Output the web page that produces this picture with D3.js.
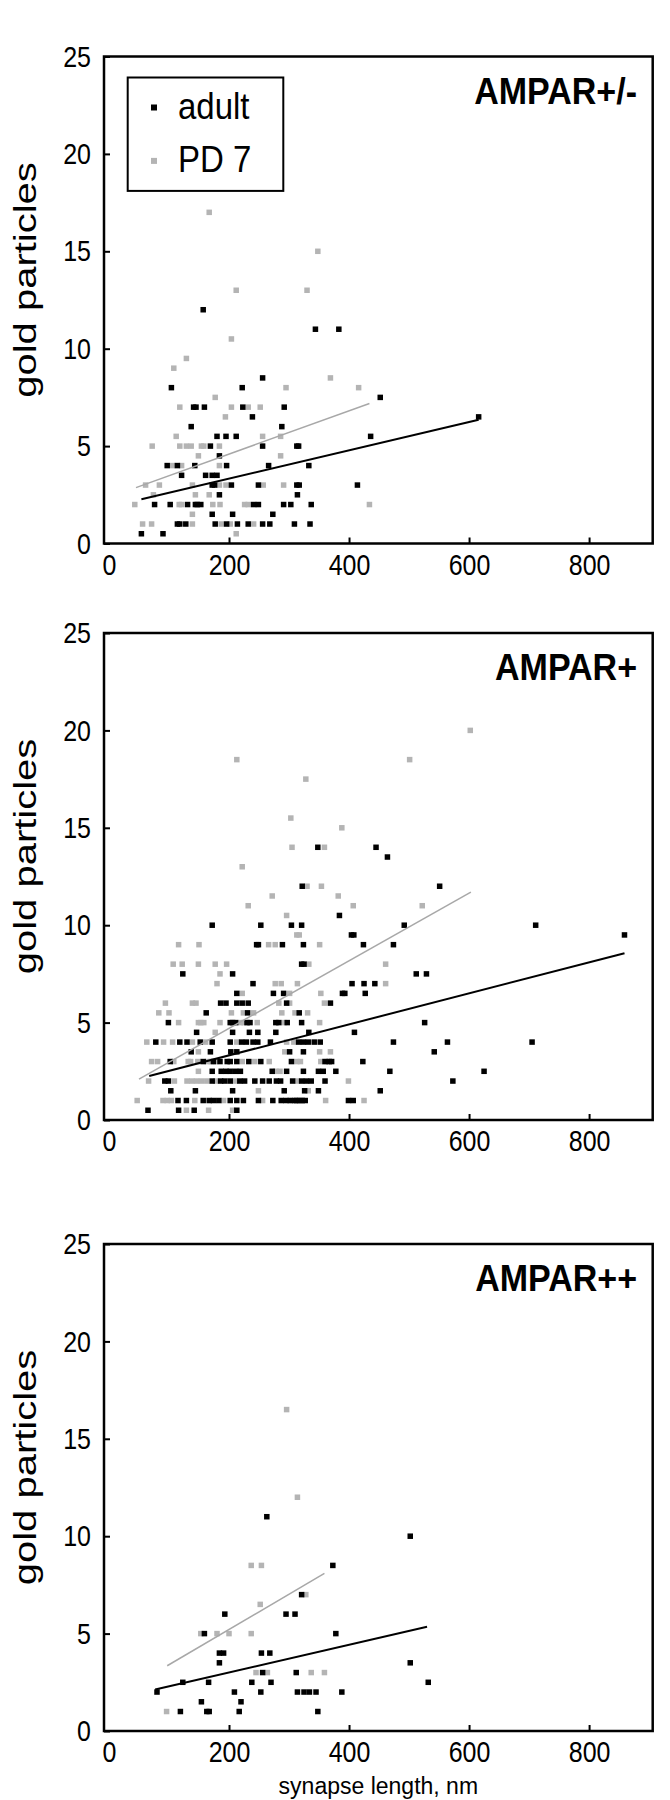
<!DOCTYPE html>
<html>
<head>
<meta charset="utf-8">
<script src="https://cdn.jsdelivr.net/npm/d3@7"></script>
<style>
  body { margin: 0; background: #fff; }
  svg text { font-family: "Liberation Sans", Arial, sans-serif; fill: #000; }
</style>
</head>
<body>
<svg id="chart"></svg>
<script>
// values: [synapse length nm, gold particles]
var p1Adult = [[157,12],[344,11],[383,11],[256,8.5],[104,8],[222,8],[452,7.5],
  [141,7],[145,7],[159,7],[223,7],[292,7],[239,6.5],[616,6.5],[137,6],[288,6],
  [180,5.5],[195,5.5],[212,5.5],[436,5.5],[169,5],[256,5],[313,5],[316,5],[184,4.5],
  [97,4],[114,4],[143,4],[196,4],[266,4],[333,4],[121,3.5],[161,3.5],[172,3.5],[180,3.5],
  [172,3],[176,3],[204,3],[249,3],[313,3],[317,3],[414,3],[184,2.5],[314,2.5],
  [76,2],[102,2],[131,2],[144,2],[147,2],[153,2],[241,2],[249,2],[291,2],[303,2],[337,2],
  [172,1.5],[206,1.5],[273,1.5],
  [114,1],[118,1],[128,1],[177,1],[196,1],[214,1],[232,1],[256,1],[268,1],[309,1],[335,1],
  [54,0.5],[90,0.5]];
var p1Pd7 = [[167,17],[348,15],[212,13],[330,13],[204,10.5],[129,9.5],[108,9],[369,8.5],
  [295,8],[416,8],[177,7.5],[118,7],[204,7],[232,7],[252,7],[194,6.5],
  [112,5.5],[256,5.5],[286,5.5],[72,5],[118,5],[129,5],[137,5],[154,5],[158,5],[184,5],
  [149,4.5],[286,4.5],[106,4],[121,4],[184,4],
  [61,3],[84,3],[139,3],[184,3],[195,3],[257,3],[291,3],[74,2.5],[144,2.5],[167,2.5],
  [43,2],[117,2],[121,2],[173,2],[185,2],[226,2],[232,2],[434,2],[139,1.5],
  [56,1],[71,1],[139,1],[187,1],[202,1],[241,1],[212,0.5]];

var p2Adult = [[464,13.5],[551,12],[445,14],[348,14],[322,12],[384,10.5],
  [172,10],[253,10],[304,10],[321,10],[492,10],[711,10],[404,9.5],[408,9.5],[859,9.5],
  [246,9],[249,9],[289,9],[324,9],[424,9],[474,9],[321,8],[325,8],
  [123,7.5],[206,7.5],[512,7.5],[529,7.5],[240,7],[405,7],[425,7],[443,7],
  [213,6.5],[274,6.5],[291,6.5],[389,6.5],[393,6.5],[427,6.5],
  [186,6],[195,6],[213,6],[222,6],[232,6],[296,6],[369,6],[162,5.5],[231,5.5],[317,5.5],
  [99,5],[202,5],[206,5],[211,5],[230,5],[235,5],[278,5],[283,5],[297,5],[321,5],[526,5],
  [146,4.5],[206,4.5],[234,4.5],[248,4.5],[278,4.5],[333,4.5],[409,4.5],
  [78,4],[118,4],[130,4],[152,4],[172,4],[202,4],[221,4],[229,4],[240,4],[248,4],[269,4],
  [316,4],[324,4],[332,4],[342,4],[352,4],[474,4],[564,4],[705,4],
  [137,3.5],[169,3.5],[203,3.5],[213,3.5],[301,3.5],[324,3.5],[542,3.5],
  [102,3],[157,3],[174,3],[185,3],[197,3],[202,3],[213,3],[233,3],[253,3],[304,3],[360,3],
  [367,3],[371,3],[423,3],
  [172,2.5],[187,2.5],[195,2.5],[202,2.5],[211,2.5],[219,2.5],[272,2.5],[296,2.5],[324,2.5],
  [349,2.5],[357,2.5],[378,2.5],[468,2.5],[625,2.5],
  [93,2],[99,2],[172,2],[186,2],[193,2],[202,2],[218,2],[226,2],[243,2],[256,2],[267,2],
  [279,2],[286,2],[306,2],[321,2],[329,2],[337,2],[360,2],[573,2],
  [103,1.5],[144,1.5],[206,1.5],[292,1.5],[326,1.5],[349,1.5],[452,1.5],
  [115,1],[129,1],[157,1],[167,1],[174,1],[183,1],[202,1],[213,1],[224,1],[249,1],[273,1],
  [287,1],[295,1],[302,1],[310,1],[313,1],[318,1],[322,1],[327,1],[399,1],[407,1],
  [65,0.5],[116,0.5],[142,0.5],[213,0.5]];
var p2Pd7 = [[213,18.5],[328,17.5],[501,18.5],[602,20],[303,15.5],[388,15],[305,14],[359,14],
  [222,13],[330,12],[354,12],[272,11.5],[382,11.5],[232,11],[407,11],[522,11],[296,10.5],
  [313,9.5],[317,9.5],[116,9],[150,9],[266,9],[277,9],[351,9],
  [107,8],[122,8],[149,8],[177,8],[196,8],[333,8],[461,8],[185,7.5],
  [180,7],[277,7],[287,7],[314,7],[461,7],[222,6.5],[301,6.5],[353,6.5],
  [94,6],[139,6],[145,6],[283,6],[301,6],[359,6],
  [83,5.5],[100,5.5],[204,5.5],[224,5.5],[241,5.5],[288,5.5],[310,5.5],[331,5.5],
  [116,5],[149,5],[153,5],[158,5],[185,5],[219,5],[225,5],[247,5],[292,5],[351,5],[177,4.5],
  [63,4],[91,4],[106,4],[139,4],[161,4],[213,4],[296,4],[308,4],
  [149,3.5],[293,3.5],[351,3.5],[369,3.5],
  [71,3],[81,3],[108,3],[132,3],[136,3],[148,3],[164,3],[170,3],[178,3],[222,3],[243,3],
  [267,3],[313,3],[319,3],[353,3],[363,3],[149,2.5],[278,2.5],[285,2.5],
  [66,2],[109,2],[130,2],[138,2],[146,2],[154,2],[163,2],[178,2],[210,2],[314,2],[399,2],
  [249,1.5],[332,1.5],
  [47,1],[90,1],[97,1],[104,1],[143,1],[191,1],[256,1],[305,1],[361,1],[425,1],
  [129,0.5],[166,0.5],[206,0.5]];

var p3Adult = [[263,11],[502,10],[373,8.5],[321,7],[193,6],[295,6],[310,6],[159,5],[378,5],
  [184,4],[191,4],[254,4],[268,4],[184,3.5],[502,3.5],[256,3],[312,3],
  [123,2.5],[166,2.5],[238,2.5],[270,2.5],[532,2.5],
  [80,2],[209,2],[253,2],[314,2],[325,2],[334,2],[345,2],[388,2],[154,1.5],[220,1.5],
  [119,1],[163,1],[167,1],[217,1],[348,1]];
var p3Pd7 = [[296,16.5],[314,12],[237,8.5],[254,8.5],[328,7],[252,6.5],[153,5],[180,5],
  [200,5],[237,5],[245,3],[264,3],[337,3],[359,3],[96,1]];

// fitted lines as drawn (end points)
var p1AdultFit = [[54,2.27],[616,6.35]];
var p1Pd7Fit = [[45,2.87],[434,7.19]];
var p2AdultFit = [[67,2.26],[859,8.56]];
var p2Pd7Fit = [[50,2.1],[603,11.7]];
var p3AdultFit = [[77,2.13],[530,5.35]];
var p3Pd7Fit = [[97,3.35],[359,8.09]];

var titles = ["AMPAR+/-", "AMPAR+", "AMPAR++"];
var seriesNames = ["adult", "PD 7"];
var xTicks = [0, 200, 400, 600, 800];
var yTicks = [0, 5, 10, 15, 20, 25];

var panels = [
  {title: titles[0], adult: p1Adult, pd7: p1Pd7, adultFit: p1AdultFit, pd7Fit: p1Pd7Fit, top: 56.5, legend: true},
  {title: titles[1], adult: p2Adult, pd7: p2Pd7, adultFit: p2AdultFit, pd7Fit: p2Pd7Fit, top: 633},
  {title: titles[2], adult: p3Adult, pd7: p3Pd7, adultFit: p3AdultFit, pd7Fit: p3Pd7Fit, top: 1244, xlabel: true}
];

var width = 670, height = 1800;
var left = 104, right = 652.7, ph = 487;
var black = "#000", grey = "#b4b4b4";
var sq = 5.5;
var stretch = 1.2;   // the source lettering is a bit taller than it is wide

var svg = d3.select("#chart").attr("width", width).attr("height", height);

var x = d3.scaleLinear().domain([-8.3, 906]).range([left, right]);
var line = d3.line();

panels.forEach(function (p) {
  var y = d3.scaleLinear().domain([0, 25]).range([p.top + ph, p.top]);
  var g = svg.append("g");

  // axes, ticks pointing inward
  var xa = g.append("g").attr("transform", "translate(0," + (p.top + ph) + ")")
    .call(d3.axisBottom(x).tickValues(xTicks).tickSize(-6).tickPadding(10));
  var ya = g.append("g").attr("transform", "translate(" + left + ",0)")
    .call(d3.axisLeft(y).tickValues(yTicks).tickSize(-6).tickPadding(13));
  [xa, ya].forEach(function (a) {
    a.select(".domain").remove();
    a.selectAll("line").attr("stroke", black).attr("stroke-width", 2);
    a.selectAll("text").style("font-size", "25px").attr("fill", black)
      .attr("transform", "scale(1," + stretch + ")");
  });
  xa.selectAll("text").attr("y", 10 / stretch);
  xa.selectAll(".tick").filter(function (d) { return d === 0; }).select("line").remove();

  // grey group first, black on top
  g.append("g").selectAll("rect").data(p.pd7).enter().append("rect")
    .attr("x", function (d) { return x(d[0]) - sq / 2; })
    .attr("y", function (d) { return y(d[1]) - sq / 2; })
    .attr("width", sq).attr("height", sq).attr("fill", grey);
  g.append("g").selectAll("rect").data(p.adult).enter().append("rect")
    .attr("x", function (d) { return x(d[0]) - sq / 2; })
    .attr("y", function (d) { return y(d[1]) - sq / 2; })
    .attr("width", sq).attr("height", sq).attr("fill", black);

  line.x(function (d) { return x(d[0]); }).y(function (d) { return y(d[1]); });
  g.append("path").attr("d", line(p.pd7Fit)).attr("fill", "none")
    .attr("stroke", "#a8a8a8").attr("stroke-width", 1.5);
  g.append("path").attr("d", line(p.adultFit)).attr("fill", "none")
    .attr("stroke", black).attr("stroke-width", 2);

  // frame
  g.append("rect").attr("x", left).attr("y", p.top)
    .attr("width", right - left).attr("height", ph)
    .attr("fill", "none").attr("stroke", black).attr("stroke-width", 2.5);

  g.append("text")
    .attr("transform", "translate(637," + (p.top + 47) + ") scale(1,1.1)")
    .attr("text-anchor", "end").style("font-size", "34px").style("font-weight", "bold")
    .text(p.title);

  g.append("text")
    .attr("transform", "translate(36," + (p.top + ph / 2 - 20) + ") rotate(-90) scale(1.25,1)")
    .attr("text-anchor", "middle").style("font-size", "32px")
    .text("gold particles");

  if (p.legend) {
    var lg = g.append("g");
    lg.append("rect").attr("x", 127.7).attr("y", p.top + 21)
      .attr("width", 155.6).attr("height", 113.4)
      .attr("fill", "#fff").attr("stroke", black).attr("stroke-width", 2);
    [black, grey].forEach(function (c, i) {
      var cy = p.top + 51 + i * 53.4;
      lg.append("rect").attr("x", 154 - 3).attr("y", cy - 3)
        .attr("width", 6).attr("height", 6).attr("fill", c);
      lg.append("text")
        .attr("transform", "translate(178," + (cy + 11) + ") scale(1,1.1)")
        .style("font-size", "33px").text(seriesNames[i]);
    });
  }

  if (p.xlabel) {
    g.append("text")
      .attr("x", (left + right) / 2).attr("y", 1794)
      .attr("text-anchor", "middle").style("font-size", "23px")
      .text("synapse length, nm");
  }
});
</script>
</body>
</html>
